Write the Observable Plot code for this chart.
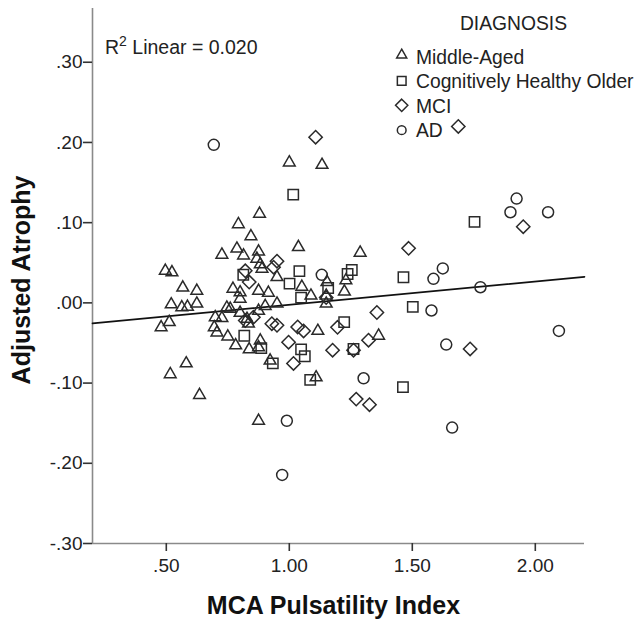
<!DOCTYPE html>
<html>
<head>
<meta charset="utf-8">
<script src="https://cdn.jsdelivr.net/npm/d3@7"></script>
<script src="https://cdn.jsdelivr.net/npm/@observablehq/plot@0.6"></script>
<style>
  body { margin: 0; background: #fff; }
  #chart svg { display: block; }
</style>
</head>
<body>
<div id="chart"></div>
<script>
// ---- Data ----
const categories = ["Middle-Aged", "Cognitively Healthy Older", "MCI", "AD"];

// [MCA Pulsatility Index, Adjusted Atrophy]
const middleAged = [
  [1.000, 0.175], [1.133, 0.172], [0.879, 0.111], [0.793, 0.098], [0.844, 0.083],
  [1.037, 0.0695], [1.288, 0.0625], [0.726, 0.060], [0.787, 0.0675], [0.814, 0.059],
  [0.875, 0.064], [0.868, 0.055], [0.882, 0.048], [0.889, 0.0425], [0.950, 0.032],
  [1.051, 0.020], [1.088, 0.009], [1.153, 0.026], [1.150, 0.009], [1.150, -0.001],
  [1.230, 0.028], [1.224, 0.014], [0.496, 0.040], [0.523, 0.038], [0.567, 0.019],
  [0.624, 0.015], [0.520, -0.002], [0.563, -0.0055], [0.586, -0.005], [0.624, -0.001],
  [0.771, 0.0175], [0.800, 0.013], [0.800, 0.005], [0.875, 0.015], [0.915, 0.0125],
  [0.950, -0.001], [0.902, -0.004], [0.875, -0.010], [0.746, -0.006], [0.760, -0.0075],
  [0.800, -0.0125], [0.699, -0.018], [0.726, -0.019], [0.828, -0.020], [0.834, -0.026],
  [0.479, -0.0305], [0.512, -0.024], [0.695, -0.0305], [0.706, -0.037], [0.750, -0.042],
  [0.782, -0.053], [0.837, -0.058], [0.882, -0.047], [0.875, -0.0555], [1.116, -0.035],
  [1.363, -0.041], [0.922, -0.072], [1.109, -0.093], [0.516, -0.089], [0.581, -0.0755],
  [0.635, -0.115], [0.875, -0.147]
];
const healthyOlder = [
  [1.016, 0.135], [0.813, 0.035], [1.041, 0.0395], [1.001, 0.024], [1.048, 0.0065],
  [1.158, 0.0185], [1.237, 0.036], [1.254, 0.041], [1.464, 0.032], [1.753, 0.101],
  [1.502, -0.005], [1.462, -0.105], [1.223, -0.024], [0.817, -0.041], [0.886, -0.0565],
  [0.933, -0.0755], [1.048, -0.058], [1.063, -0.0665], [1.085, -0.096], [1.261, -0.0575]
];
const mci = [
  [1.107, 0.2065], [1.687, 0.220], [1.485, 0.068], [1.951, 0.095], [0.821, 0.040],
  [0.837, 0.026], [0.950, 0.052], [0.936, 0.0445], [1.150, 0.0066], [1.356, -0.012],
  [0.854, -0.018], [0.821, -0.022], [0.929, -0.026], [0.950, -0.028], [1.034, -0.030],
  [1.058, -0.035], [1.196, -0.0305], [1.322, -0.0465], [0.997, -0.049], [1.017, -0.0755],
  [1.176, -0.059], [1.261, -0.059], [1.272, -0.120], [1.326, -0.127], [1.735, -0.0575]
];
const ad = [
  [0.693, 0.197], [1.924, 0.130], [1.899, 0.113], [2.052, 0.113], [1.624, 0.043],
  [1.586, 0.030], [1.777, 0.0195], [1.578, -0.0095], [2.096, -0.035], [1.638, -0.052],
  [1.662, -0.1555], [1.132, 0.035], [1.302, -0.094], [0.990, -0.147], [0.971, -0.2145]
];

// Fit line endpoints
const fitX = [0.2, 2.2];
const fitY = [-0.0255, 0.0325];

const xTicks = [0.5, 1.0, 1.5, 2.0];
const yTicks = [-0.3, -0.2, -0.1, 0, 0.1, 0.2, 0.3];
const xDomain = [0.2, 2.2];
const yDomain = [-0.3, 0.367];

const xTitle = "MCA Pulsatility Index";
const yTitle = "Adjusted Atrophy";
const legendTitle = "DIAGNOSIS";
const r2Parts = ["R", "2", " Linear = 0.020"];

// ---- Build ----
const FONT = "'Liberation Sans', Arial, Helvetica, sans-serif";
const INK = "#222";
const fmt = d => d3.format(".2f")(d).replace("\u2212", "-").replace(/^(-?)0\./, "$1.");
const toRows = arr => arr.map(([x, y]) => ({x, y}));
const fitRows = fitX.map((x, i) => ({x, y: fitY[i]}));

const groupStyles = [
  {data: middleAged,   symbol: d3.symbolTriangle2, r: 5.6},
  {data: healthyOlder, symbol: d3.symbolSquare2,   r: 6.6},
  {data: mci,          symbol: d3.symbolDiamond2,  r: 6.0},
  {data: ad,           symbol: d3.symbolCircle,    r: 5.5}
];

const plot = Plot.plot({
  width: 638,
  height: 622,
  marginLeft: 92,
  marginRight: 54,
  marginTop: 8,
  marginBottom: 79,
  style: {fontFamily: FONT, fontSize: "19px", color: INK, background: "#fff"},
  x: {domain: xDomain},
  y: {domain: yDomain},
  marks: [
    Plot.ruleX([xDomain[0]], {stroke: "#8a8a8a", strokeWidth: 1.6}),
    Plot.ruleY([yDomain[0]], {stroke: "#8a8a8a", strokeWidth: 1.6}),
    Plot.axisY(yTicks, {tickSize: 9, tickPadding: 1, tickFormat: fmt, fontSize: 19, stroke: "#333", strokeWidth: 1.6, label: null}),
    Plot.axisX(xTicks, {tickSize: 8, tickPadding: 7, tickFormat: fmt, fontSize: 19, stroke: "#333", strokeWidth: 1.6, label: null}),
    Plot.line(fitRows, {x: "x", y: "y", stroke: "#111", strokeWidth: 1.7}),
    ...groupStyles.map(g => Plot.dot(toRows(g.data), {
      x: "x", y: "y", symbol: g.symbol, r: g.r,
      fill: "none", stroke: "#2a2a2a", strokeWidth: 1.5
    })),
    Plot.text([xTitle], {frameAnchor: "bottom", dx: -5, dy: 70, textAnchor: "middle", lineAnchor: "bottom", fontSize: 25, fontWeight: "bold", fill: "#111"}),
    Plot.text([yTitle], {frameAnchor: "left", dx: -63, dy: 4, rotate: -90, textAnchor: "middle", lineAnchor: "bottom", fontSize: 25, fontWeight: "bold", fill: "#111"})
  ]
});

document.getElementById("chart").append(plot);

const svg = d3.select(plot);

// ---- R² annotation (top-left of the plot area) ----
const r2 = svg.append("text")
  .attr("x", 105).attr("y", 54)
  .attr("font-family", FONT).attr("font-size", 19.5)
  .attr("fill", INK).attr("text-anchor", "start");
r2.append("tspan").text(r2Parts[0]);
r2.append("tspan").attr("font-size", 14).attr("dy", -8).text(r2Parts[1]);
r2.append("tspan").attr("dy", 8).text(r2Parts[2]);

// ---- Legend (inside the plot area, top right) ----
const lg = svg.append("g")
  .attr("font-family", FONT)
  .attr("font-size", 19.3)
  .attr("fill", INK);
lg.append("text").attr("x", 513.5).attr("y", 30).attr("text-anchor", "middle").text(legendTitle);
const legendSymbols = [
  {symbol: d3.symbolTriangle2, size: 72, off: -9},
  {symbol: d3.symbolSquare2,   size: 96, off: -7.5},
  {symbol: d3.symbolDiamond2,  size: 96, off: -7.5},
  {symbol: d3.symbolCircle,    size: 60, off: -7}
];
categories.forEach((c, i) => {
  const base = 64 + i * 24.4;
  const s = legendSymbols[i];
  lg.append("path")
    .attr("d", d3.symbol(s.symbol, s.size)())
    .attr("transform", `translate(401.7,${base + s.off})`)
    .attr("fill", "none").attr("stroke", "#2a2a2a").attr("stroke-width", 1.5);
  lg.append("text").attr("x", 416).attr("y", base).attr("text-anchor", "start").text(c);
});
</script>
</body>
</html>
